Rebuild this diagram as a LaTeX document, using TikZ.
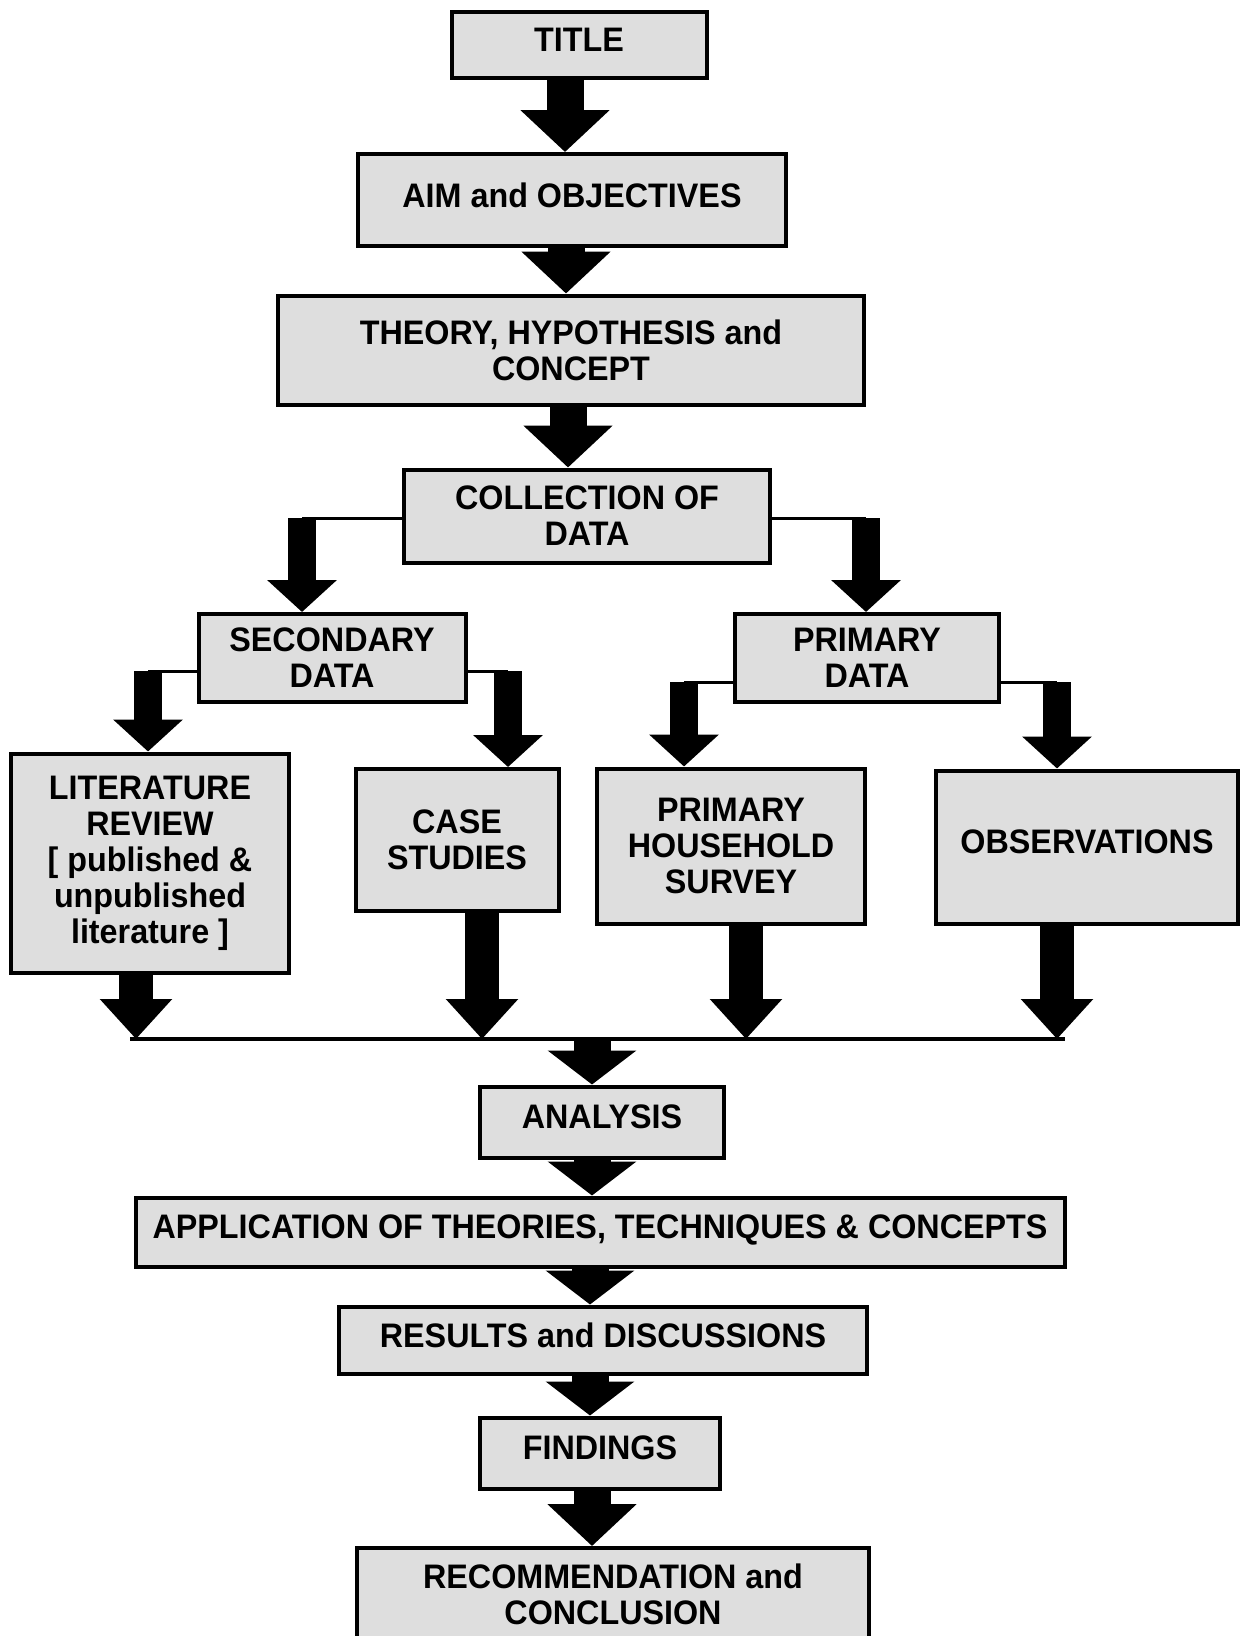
\documentclass[tikz,border=0pt]{standalone}
\usepackage{fontspec}
\setmainfont{Liberation Sans}
\newfontfamily\boxfont{Liberation Sans}[FakeStretch=0.95]
\usetikzlibrary{arrows.meta}

\begin{document}
\begin{tikzpicture}[x=1pt,y=-1pt,
    box/.style={draw=black,line width=4pt,fill=black!13,align=center,inner sep=0pt,
      font=\boxfont\fontsize{34}{36}\selectfont\bfseries},
    oneline/.style={text depth=10pt},
    bigarrow/.style={line width=37pt,-{Triangle[width=87pt,length=42pt]}},
    lowarrow/.style={line width=37pt,-{Triangle[width=87pt,length=34pt]}},
    smallarrow/.style={line width=28pt,-{Triangle[width=68pt,length=32pt]}},
    droparrow/.style={line width=34pt,-{Triangle[width=70pt,length=40pt]}},
    link/.style={line width=3pt}]
\useasboundingbox (0,0) rectangle (1240,1636);

% boxes
\node[box,oneline,minimum width=255pt,minimum height=66pt] (title) at (579,45) {TITLE};
\node[box,oneline,minimum width=428pt,minimum height=92pt] (aim) at (572,200) {AIM and OBJECTIVES};
\node[box,minimum width=586pt,minimum height=109pt] (theory) at (571,350) {THEORY, HYPOTHESIS and\\CONCEPT};
\node[box,minimum width=366pt,minimum height=93pt] (coll) at (587,516) {COLLECTION OF\\DATA};
\node[box,minimum width=267pt,minimum height=88pt] (sec) at (332,658) {SECONDARY\\DATA};
\node[box,minimum width=264pt,minimum height=88pt] (prim) at (867,658) {PRIMARY\\DATA};
\node[box,minimum width=278pt,minimum height=219pt] (lit) at (150,863)
  {LITERATURE\\REVIEW\\{[} published \&\\unpublished\\literature ]};
\node[box,minimum width=203pt,minimum height=142pt] (case) at (457,840) {CASE\\STUDIES};
\node[box,minimum width=268pt,minimum height=155pt] (survey) at (731,846) {PRIMARY\\HOUSEHOLD\\SURVEY};
\node[box,oneline,minimum width=302pt,minimum height=153pt] (obs) at (1087,847) {OBSERVATIONS};
\node[box,oneline,minimum width=244pt,minimum height=71pt] (analysis) at (602,1122) {ANALYSIS};
\node[box,oneline,minimum width=929pt,minimum height=69pt] (appl) at (600,1232)
  {APPLICATION OF THEORIES, TECHNIQUES \& CONCEPTS};
\node[box,oneline,minimum width=528pt,minimum height=67pt] (results) at (603,1340) {RESULTS and DISCUSSIONS};
\node[box,oneline,minimum width=240pt,minimum height=71pt] (findings) at (600,1453) {FINDINGS};
\node[box,minimum width=512pt,minimum height=92pt] (recom) at (613,1594) {RECOMMENDATION and\\CONCLUSION};

% branch points
\coordinate (cl) at (302,518);
\coordinate (cr) at (866,518);
\coordinate (sl) at (148,671);
\coordinate (sr) at (508,671);
\coordinate (pl) at (684,682);
\coordinate (pr) at (1057,682);
\coordinate (barl) at (130,1039);
\coordinate (barr) at (1065,1039);
\coordinate (top) at (565,0);
\coordinate (low) at (592,0);

% main column
\draw[bigarrow] (title.south -| top) -- (aim.north -| top);
\draw[bigarrow] ([xshift=1pt]aim.south -| top) -- ([xshift=1pt]theory.north -| top);
\draw[bigarrow] ([xshift=3pt]theory.south -| top) -- ([xshift=3pt]coll.north -| top);

% split of the data
\draw[link] (coll.west |- cl) -- (cl);
\draw[link] (coll.east |- cr) -- (cr);
\draw[smallarrow] (cl) -- (cl |- sec.north);
\draw[smallarrow] (cr) -- (cr |- prim.north);
\draw[link] (sec.west |- sl) -- (sl);
\draw[link] (sec.east |- sr) -- (sr);
\draw[smallarrow] (sl) -- (sl |- lit.north);
\draw[smallarrow] (sr) -- (sr |- case.north);
\draw[link] (prim.west |- pl) -- (pl);
\draw[link] (prim.east |- pr) -- (pr);
\draw[smallarrow] (pl) -- (pl |- survey.north);
\draw[smallarrow] (pr) -- (pr |- obs.north);

% gathering bar
\draw[line width=4pt] (barl) -- (barr);
\draw[droparrow] (lit.south -| 136,0) -- (barl -| 136,0);
\draw[droparrow] (case.south -| 482,0) -- (barl -| 482,0);
\draw[droparrow] (survey.south -| 746,0) -- (barl -| 746,0);
\draw[droparrow] (obs.south -| 1057,0) -- (barl -| 1057,0);

% lower column
\draw[lowarrow] (barl -| low) -- (analysis.north -| low);
\draw[lowarrow] (analysis.south -| low) -- (appl.north -| low);
\draw[lowarrow] ([xshift=-2pt]appl.south -| low) -- ([xshift=-2pt]results.north -| low);
\draw[lowarrow] ([xshift=-2pt]results.south -| low) -- ([xshift=-2pt]findings.north -| low);
\draw[bigarrow] (findings.south -| low) -- (recom.north -| low);
\end{tikzpicture}
\end{document}
